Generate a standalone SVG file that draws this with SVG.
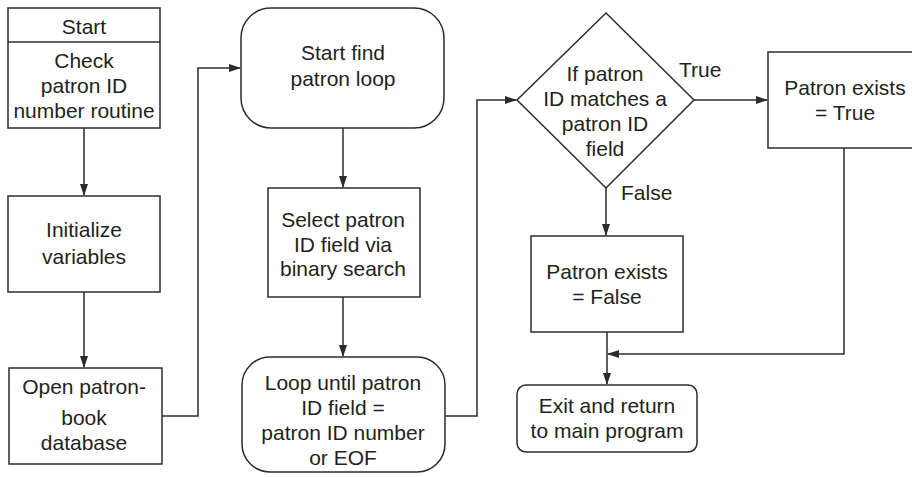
<svg xmlns="http://www.w3.org/2000/svg" width="912" height="477" viewBox="0 0 912 477">
<style>
.s{fill:#fff;stroke:#2b2b2b;stroke-width:1.5}
.c{fill:none;stroke:#2b2b2b;stroke-width:1.5}
text{font-family:"Liberation Sans",Arial,sans-serif;font-size:21px;fill:#231f20;text-anchor:middle}
.l{text-anchor:start}
</style>
<defs>
<marker id="a" markerWidth="12" markerHeight="8" refX="11" refY="4" orient="auto" markerUnits="userSpaceOnUse">
<path d="M0,0 L12,4 L0,8 Z" fill="#2b2b2b"/>
</marker>
</defs>
<rect width="912" height="477" fill="#fff"/>
<g id="connectors">
<line class="c" x1="84" y1="128" x2="84" y2="195" marker-end="url(#a)"/>
<line class="c" x1="84" y1="292" x2="84" y2="367" marker-end="url(#a)"/>
<polyline class="c" points="162,416 198,416 198,68 240,68" marker-end="url(#a)"/>
<line class="c" x1="343" y1="128" x2="343" y2="187" marker-end="url(#a)"/>
<line class="c" x1="343" y1="297" x2="343" y2="356" marker-end="url(#a)"/>
<polyline class="c" points="445,416 477,416 477,100 516,100" marker-end="url(#a)"/>
<line class="c" x1="694" y1="100" x2="767" y2="100" marker-end="url(#a)"/>
<line class="c" x1="606" y1="188" x2="606" y2="235" marker-end="url(#a)"/>
<line class="c" x1="607" y1="332" x2="607" y2="384" marker-end="url(#a)"/>
<polyline class="c" points="844,148 844,354 608,354" marker-end="url(#a)"/>
</g>
<g id="start">
<rect class="s" x="8" y="8" width="152" height="120"/>
<line class="c" x1="8" y1="42" x2="160" y2="42"/>
<text x="84" y="34">Start</text>
<text x="84" y="68">Check</text>
<text x="84" y="93">patron ID</text>
<text x="84" y="118">number routine</text>
</g>
<g id="init">
<rect class="s" x="8" y="196" width="152" height="96"/>
<text x="84" y="237">Initialize</text>
<text x="84" y="264">variables</text>
</g>
<g id="open">
<rect class="s" x="9" y="368" width="153" height="96"/>
<text x="84" y="394">Open patron-</text>
<text x="84" y="425">book</text>
<text x="84" y="450">database</text>
</g>
<g id="startloop">
<rect class="s" x="241" y="8" width="203" height="120" rx="30" ry="30"/>
<text x="343" y="60">Start find</text>
<text x="343" y="86">patron loop</text>
</g>
<g id="select">
<rect class="s" x="268" y="188" width="152" height="109"/>
<text x="343" y="227">Select patron</text>
<text x="343" y="252">ID field via</text>
<text x="343" y="276">binary search</text>
</g>
<g id="loopuntil">
<rect class="s" x="242" y="357" width="203" height="115" rx="28" ry="28"/>
<text x="343" y="390">Loop until patron</text>
<text x="343" y="415">ID field =</text>
<text x="343" y="440">patron ID number</text>
<text x="343" y="465">or EOF</text>
</g>
<g id="decision">
<polygon class="s" points="606,13 694,100 606,188 517,100"/>
<text x="605" y="81">If patron</text>
<text x="605" y="106">ID matches a</text>
<text x="605" y="131">patron ID</text>
<text x="605" y="156">field</text>
<text class="l" x="679" y="77">True</text>
<text class="l" x="621" y="200">False</text>
</g>
<g id="existsTrue">
<rect class="s" x="768" y="52" width="152" height="96"/>
<text x="845" y="95">Patron exists</text>
<text x="845" y="120">= True</text>
</g>
<g id="existsFalse">
<rect class="s" x="531" y="236" width="152" height="96"/>
<text x="607" y="279">Patron exists</text>
<text x="607" y="304">= False</text>
</g>
<g id="exit">
<rect class="s" x="517" y="385" width="180" height="67" rx="9" ry="9"/>
<text x="607" y="413">Exit and return</text>
<text x="607" y="438">to main program</text>
</g>
</svg>
